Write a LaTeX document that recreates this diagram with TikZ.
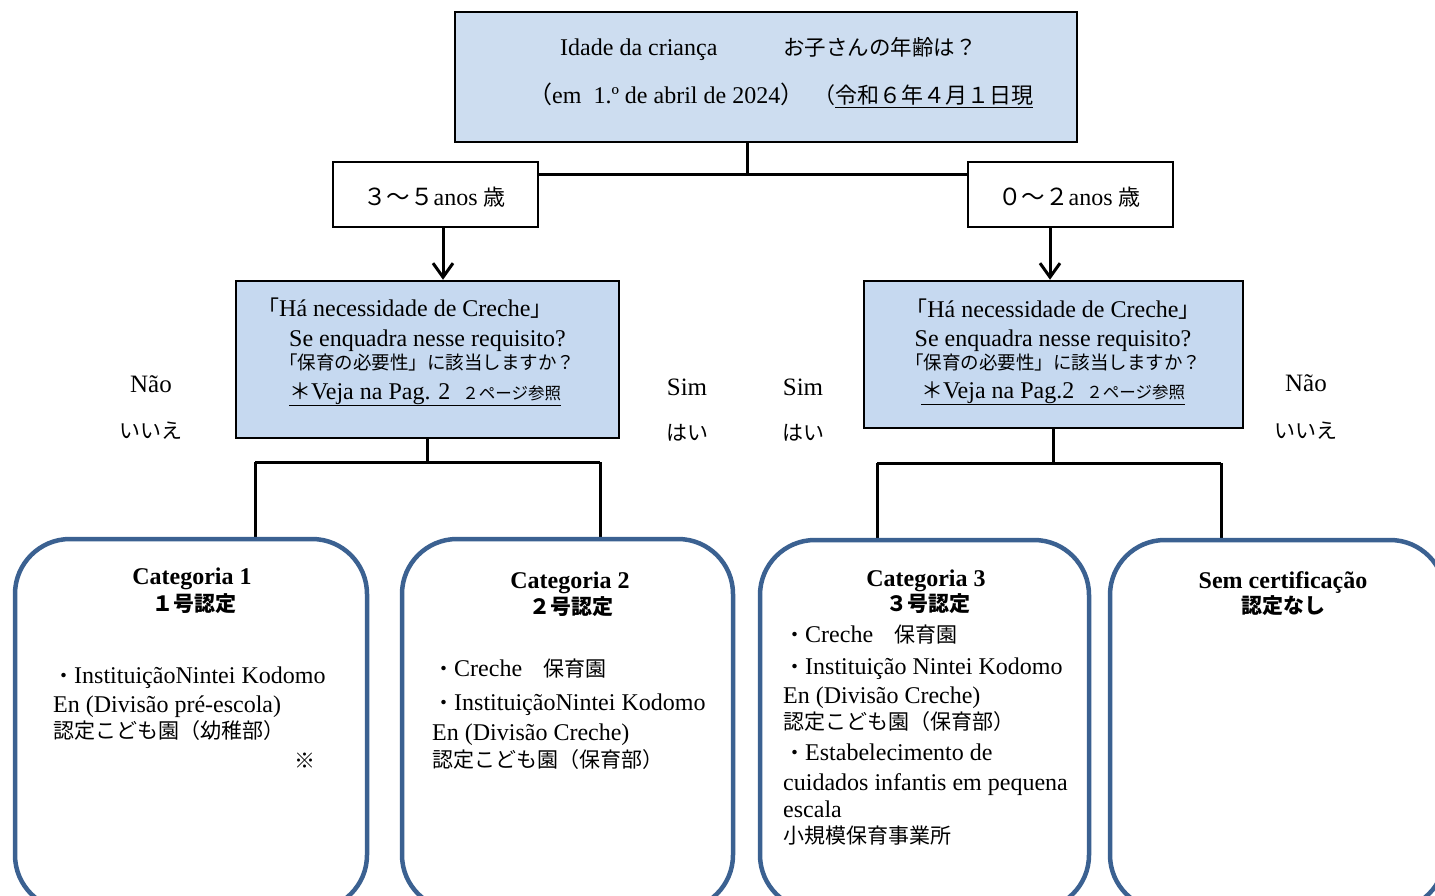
\documentclass[tikz,border=0pt]{standalone}
\usepackage{fontspec}
\setmainfont{Liberation Serif}
\newfontfamily\jp{Noto Sans CJK JP}
\usetikzlibrary{arrows.meta}
\definecolor{qblue}{HTML}{C6D9F0}
\definecolor{tblue}{HTML}{CDDDF0}
\definecolor{rblue}{HTML}{3B6191}
\newcommand{\fs}[1]{\fontsize{#1}{#1}\selectfont}
\begin{document}
\begin{tikzpicture}[x=1pt,y=-1pt,
  sq/.style={draw=black, line width=2.5pt, inner sep=0pt},
  rbox/.style={draw=rblue, fill=white, line width=4.5pt, rounded corners=55pt, inner sep=0pt},
  conn/.style={line width=3pt},
  tx/.style={inner sep=0pt, anchor=base west},
  tc/.style={inner sep=0pt, anchor=base},
  arr/.style={conn, -{Straight Barb[length=14pt,width=20pt]}},
]
\useasboundingbox (0,0) rectangle (1435,896);
\clip (0,0) rectangle (1435,896);

% boxes
\node[sq, fill=tblue, minimum width=622pt, minimum height=130pt] (top) at (766,77) {};
\node[sq, fill=white, minimum width=205pt, minimum height=65pt] (aL) at (435.5,194.5) {};
\node[sq, fill=white, minimum width=205pt, minimum height=65pt] (aR) at (1070.5,194.5) {};
\node[sq, fill=qblue, minimum width=383pt, minimum height=157pt] (qL) at (427.5,359.5) {};
\node[sq, fill=qblue, minimum width=379pt, minimum height=147pt] (qR) at (1053.5,354.5) {};

% connectors
\coordinate (tj) at (747,175);
\coordinate (ts) at ([xshift=-19pt]top.south);
\draw[conn] (ts) -- (tj);
\draw[conn] (tj -| aL.east) -- (tj -| aR.west);
\coordinate (aLs) at ([xshift=7.5pt]aL.south);
\coordinate (aRs) at ([xshift=-20.5pt]aR.south);
\draw[arr] (aLs) -- (aLs |- qL.north);
\draw[arr] (aRs) -- (aRs |- qR.north);

\coordinate (jL) at (427.5,462);
\coordinate (jL1) at (255,462);
\coordinate (jL2) at (600,462);
\coordinate (jR) at (1053.5,463);
\coordinate (jR1) at (877,463);
\coordinate (jR2) at (1221,463);
\draw[conn] (qL.south) -- (jL);
\draw[conn] (jL1) -- (jL2);
\draw[conn] (qR.south) -- (jR);
\draw[conn] (jR1) -- (jR2);
\draw[conn] (jL1) -- (255,540);
\draw[conn] (jL2) -- (600,540);
\draw[conn] (jR1) -- (877,541);
\draw[conn] (jR2) -- (1221,541);

% result boxes
\node[rbox, minimum width=352pt, minimum height=371pt] (b1) at (191,724.5) {};
\node[rbox, minimum width=331pt, minimum height=371pt] (b2) at (567.5,724.5) {};
\node[rbox, minimum width=329pt, minimum height=370pt] (b3) at (924.5,725) {};
\node[rbox, minimum width=335pt, minimum height=370pt] (b4) at (1277.5,725) {};

% top texts
\node[tx] (t1) at (560,56) {\fs{24}Idade da criança};
\node[tx] (t2) at (783,56) {\jp\fs{21.5}お子さんの年齢は？};
\node[tx] (t3) at (528,104) {\fs{24}{\jp（}em\ \ 1.º de abril de 2024{\jp）}};
\node[tx] (t4) at (813,104) {\jp\fs{22}（\underline{令和６年４月１日現}};

% age texts
\node[tx] (aLt) at (363,206) {{\jp\fs{23.5}３〜５}{\fs{24}anos }{\jp\fs{22}歳}};
\node[tx] (aRt) at (998,206) {{\jp\fs{23.5}０〜２}{\fs{24}anos }{\jp\fs{22}歳}};

% question left
\node[tx] (qL1) at (257,316) {\fs{24}{\jp\fs{22}「}Há necessidade de Creche{\jp\fs{22}」}};
\node[tx] (qL2) at (289,346) {\fs{24}Se enquadra nesse requisito?};
\node[tx] (qL3) at (279,369) {\jp\fs{18.5}「保育の必要性」に該当しますか？};
\node[tx] (qL4) at (289,399) {\fs{24}\underline{{\jp\fs{22}＊}Veja na Pag. 2\ \ {\jp\fs{16.5}２ページ参照}}};

% question right
\node[tc] (qR1) at (1053,317) {\fs{24}{\jp\fs{22}「}Há necessidade de Creche{\jp\fs{22}」}};
\node[tc] (qR2) at (1053,346) {\fs{24}Se enquadra nesse requisito?};
\node[tc] (qR3) at (1053,369) {\jp\fs{18.5}「保育の必要性」に該当しますか？};
\node[tc] (qR4) at (1053,398) {\fs{24}\underline{{\jp\fs{22}＊}Veja na Pag.2\ \ {\jp\fs{16.5}２ページ参照}}};

% yes / no labels
\node[tc] (n1) at (151,392) {\fs{25}Não};
\node[tc] (n1j) at (151,438) {\jp\fs{21}いいえ};
\node[tc] (s1) at (687,395) {\fs{25}Sim};
\node[tc] (s1j) at (687,440) {\jp\fs{21}はい};
\node[tc] (s2) at (803,395) {\fs{25}Sim};
\node[tc] (s2j) at (803,440) {\jp\fs{21}はい};
\node[tc] (n2) at (1306,391) {\fs{25}Não};
\node[tc] (n2j) at (1306,438) {\jp\fs{21}いいえ};

% box 1
\node[tc] (c1a) at (192,584) {\bfseries\fs{24}Categoria 1};
\node[tc] (c1b) at (194,611) {\jp\bfseries\fs{21}１号認定};
\node[tx] (c1c) at (53,683) {{\jp\fs{21}・}{\fs{24}InstituiçãoNintei Kodomo}};
\node[tx] (c1d) at (53,712) {\fs{24}En (Divisão pré-escola)};
\node[tx] (c1e) at (53,738) {\jp\fs{21}認定こども園（幼稚部）};
\node[inner sep=0pt] (c1f) at (305,761) {\jp\fs{21}※};

% box 2
\node[tc] (c2a) at (570,588) {\bfseries\fs{24}Categoria 2};
\node[tc] (c2b) at (571,614) {\jp\bfseries\fs{21}２号認定};
\node[tx] (c2c) at (433,676) {{\jp\fs{21}・}{\fs{24}Creche}{\jp\fs{21}　保育園}};
\node[tx] (c2d) at (433,710) {{\jp\fs{21}・}{\fs{24}InstituiçãoNintei Kodomo}};
\node[tx] (c2e) at (432,740) {\fs{24}En (Divisão Creche)};
\node[tx] (c2f) at (432,767) {\jp\fs{21}認定こども園（保育部）};

% box 3
\node[tc] (c3a) at (926,586) {\bfseries\fs{24}Categoria 3};
\node[tc] (c3b) at (928,611) {\jp\bfseries\fs{21}３号認定};
\node[tx] (c3c) at (784,642) {{\jp\fs{21}・}{\fs{24}Creche}{\jp\fs{21}　保育園}};
\node[tx] (c3d) at (784,674) {{\jp\fs{21}・}{\fs{24}Instituição Nintei Kodomo}};
\node[tx] (c3e) at (783,703) {\fs{24}En (Divisão Creche)};
\node[tx] (c3f) at (783,729) {\jp\fs{21}認定こども園（保育部）};
\node[tx] (c3g) at (784,760) {{\jp\fs{21}・}{\fs{24}Estabelecimento de}};
\node[tx] (c3h) at (783,790) {\fs{24}cuidados infantis em pequena};
\node[tx] (c3i) at (783,817) {\fs{24}escala};
\node[tx] (c3j) at (783,843) {\jp\fs{21}小規模保育事業所};

% box 4
\node[tc] (c4a) at (1283,588) {\bfseries\fs{24}Sem certificação};
\node[tc] (c4b) at (1283,613) {\jp\bfseries\fs{21}認定なし};
\end{tikzpicture}
\end{document}
